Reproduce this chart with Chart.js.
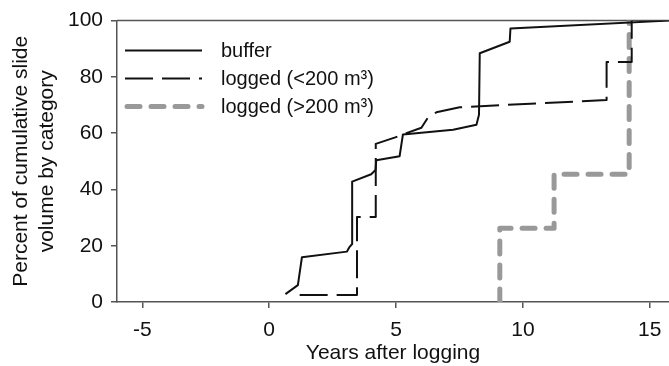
<!DOCTYPE html>
<html lang="en">
  <head>
    <meta charset="UTF-8" />
    <title>Cumulative slide volume</title>
    <script src="https://cdn.jsdelivr.net/npm/chart.js"></script>
    <style>
      html, body { margin: 0; padding: 0; background: #fff; }
      #wrap { width: 669px; height: 366px; }
    </style>
  </head>
  <body>
    <div id="wrap"><canvas id="chart"></canvas></div>
    <script>
      // values (years after logging, percent)
      const bufferX = [0.64, 1.13, 1.29, 3.06, 3.17, 3.27, 3.27, 4.02, 4.19, 4.22, 5.14, 5.27, 7.25, 8.17, 8.27, 8.30, 9.48, 9.51, 15.76];
      const bufferY = [2.8, 6.0, 15.9, 17.9, 19.6, 20.6, 42.8, 45.4, 46.9, 50.4, 51.8, 59.5, 61.2, 63.0, 66.5, 88.4, 92.5, 97.2, 100];

      const smallX = [1.20, 3.46, 3.46, 4.20, 4.20, 4.94, 5.34, 6.00, 6.26, 6.59, 7.51, 13.30, 13.30, 14.29, 14.29];
      const smallY = [2.5, 2.5, 30.2, 30.2, 56.2, 58.4, 59.8, 61.9, 65.6, 67.4, 69.2, 71.8, 85.3, 85.3, 100];

      const largeX = [9.09, 9.09, 11.23, 11.23, 14.19, 14.19];
      const largeY = [0, 26.2, 26.2, 45.4, 45.4, 100];

      const seriesNames = ["buffer", "logged (<200 m³)", "logged (>200 m³)"];
      const xTicks = [-5, 0, 5, 10, 15];

      const FONT = "'Liberation Sans', Arial, sans-serif";
      const AXIS = "#555";

      function pts(xs, ys) {
        return xs.map((x, i) => ({ x: x, y: ys[i] }));
      }

      // legend drawn inside the plot, top left
      const insideLegend = {
        id: "insideLegend",
        afterDraw(chart) {
          const ctx = chart.ctx;
          const a = chart.chartArea;
          ctx.save();
          ctx.font = "20px " + FONT;
          ctx.textBaseline = "middle";
          chart.data.datasets.forEach((ds, i) => {
            const y = a.top + 30 + i * 28;
            ctx.beginPath();
            ctx.strokeStyle = ds.borderColor;
            ctx.lineWidth = ds.borderWidth;
            ctx.lineCap = ds.borderCapStyle || "butt";
            ctx.setLineDash(ds.borderDash || []);
            const x0 = a.left + (ds.borderCapStyle === "round" ? 10 : 8);
            ctx.moveTo(x0, y);
            ctx.lineTo(a.left + 85, y);
            ctx.stroke();
            ctx.setLineDash([]);
            ctx.fillStyle = "#111";
            ctx.fillText(ds.label, a.left + 104, y + 1);
          });
          ctx.restore();
        }
      };

      // thin frame line along the top of the plot
      const topLine = {
        id: "topLine",
        beforeDatasetsDraw(chart) {
          const ctx = chart.ctx;
          const a = chart.chartArea;
          ctx.save();
          ctx.strokeStyle = AXIS;
          ctx.lineWidth = 1.5;
          ctx.beginPath();
          ctx.moveTo(a.left, a.top);
          ctx.lineTo(a.right, a.top);
          ctx.stroke();
          ctx.restore();
        }
      };

      new Chart(document.getElementById("chart"), {
        type: "line",
        data: {
          datasets: [
            {
              label: seriesNames[0],
              data: pts(bufferX, bufferY),
              borderColor: "#111",
              borderWidth: 2,
            },
            {
              label: seriesNames[1],
              data: pts(smallX, smallY),
              borderColor: "#111",
              borderWidth: 2,
              borderDash: [28, 9],
            },
            {
              label: seriesNames[2],
              data: pts(largeX, largeY),
              borderColor: "#999",
              borderWidth: 5,
              borderDash: [13, 11],
              borderCapStyle: "round",
            },
          ],
        },
        options: {
          responsive: true,
          maintainAspectRatio: false,
          animation: false,
          layout: { padding: { top: 17, right: 0, bottom: 0, left: 0 } },
          elements: {
            point: { radius: 0 },
            line: { tension: 0, borderJoinStyle: "round" },
          },
          plugins: {
            legend: { display: false },
            tooltip: { enabled: false },
          },
          scales: {
            x: {
              type: "linear",
              min: -6,
              max: 15.76,
              afterBuildTicks: (s) => { s.ticks = xTicks.map((v) => ({ value: v })); },
              afterFit: (s) => { s.height = 64; s.paddingRight = 0; },
              grid: { drawOnChartArea: false, drawTicks: true, tickLength: 6, color: AXIS, lineWidth: 1.5 },
              border: { color: AXIS, width: 1.5 },
              ticks: { color: "#111", font: { size: 21, family: FONT }, padding: 10, maxRotation: 0 },
              title: {
                display: true,
                text: "Years after logging",
                color: "#111",
                font: { size: 21, family: FONT },
                padding: { top: 0, bottom: 0 },
              },
            },
            y: {
              min: 0,
              max: 100,
              ticks: { stepSize: 20, color: "#111", font: { size: 21, family: FONT }, padding: 8 },
              afterFit: (s) => { s.width = 117; },
              grid: { drawOnChartArea: false, drawTicks: true, tickLength: 6, color: AXIS, lineWidth: 1.5 },
              border: { color: AXIS, width: 1.5 },
              title: {
                display: true,
                text: ["Percent of cumulative slide", "volume by category"],
                color: "#111",
                font: { size: 21, family: FONT, lineHeight: 1.2 },
                padding: { top: 9, bottom: 0 },
              },
            },
          },
        },
        plugins: [topLine, insideLegend],
      });
    </script>
  </body>
</html>
